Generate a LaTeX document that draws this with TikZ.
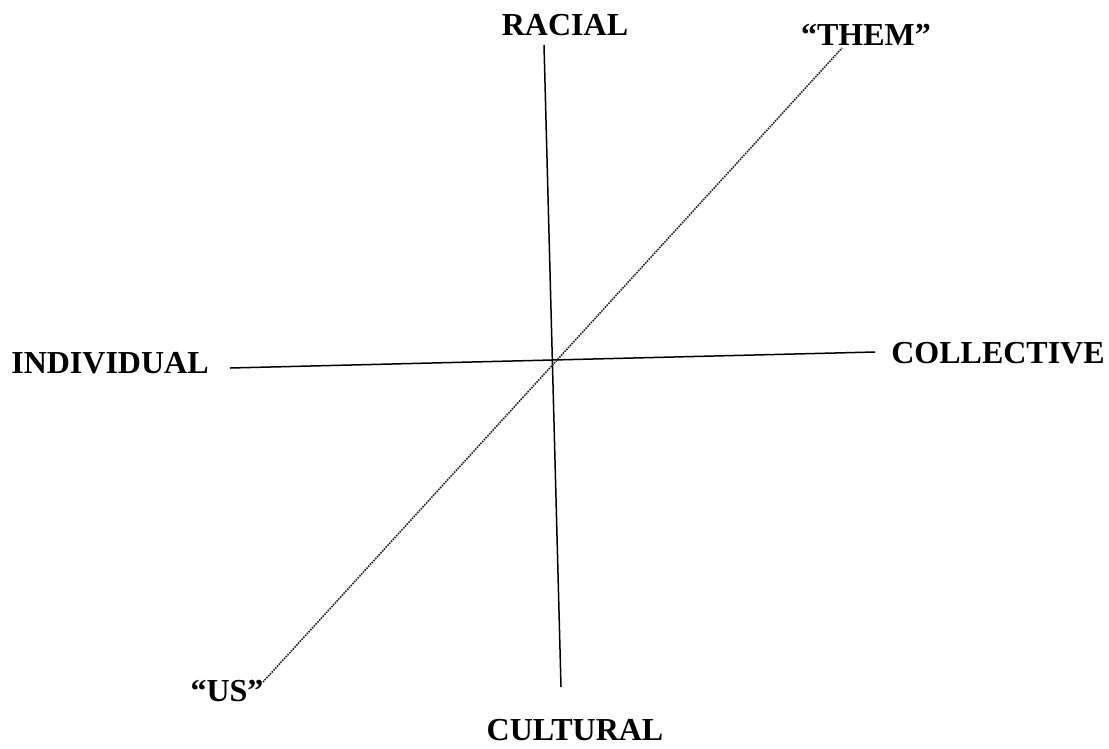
\documentclass[tikz,border=0pt]{standalone}
\usepackage{fontspec}
\setmainfont{Liberation Serif}
\usepackage{tikz}
\tikzset{axislabel/.style = {font = \fontsize{32}{35}\selectfont\bfseries, inner sep = 0pt}}
\tikzset{edge/.style = {-, line width = 1.5pt}}
\tikzset{dotedge/.style = {-, line width = 1.6pt, densely dotted, black!85}}

\begin{document}
\begin{tikzpicture}[x = 1pt, y = -1pt]
			\useasboundingbox (0, 0) rectangle (1109, 748);

			\node[axislabel] (r) at (565, 25) {RACIAL};
			\node[axislabel] (c) at (575, 730) {CULTURAL};
			\node[axislabel] (i) at (110, 363) {INDIVIDUAL};
			\node[axislabel] (k) at (998, 353) {COLLECTIVE};
			\node[axislabel] (t) at (866, 35) {``THEM''};
			\node[axislabel] (u) at (227, 691) {``US''};

			\coordinate (rt) at (544, 45);
			\coordinate (cb) at (561, 687);
			\coordinate (il) at (230, 368);
			\coordinate (kr) at (875, 352);
			\coordinate (tt) at (842, 48);
			\coordinate (ub) at (263, 682);

			\draw[edge] (rt) to (cb);
			\draw[edge] (il) to (kr);
			\draw[dotedge] (ub) to (tt);
		\end{tikzpicture}
\end{document}
